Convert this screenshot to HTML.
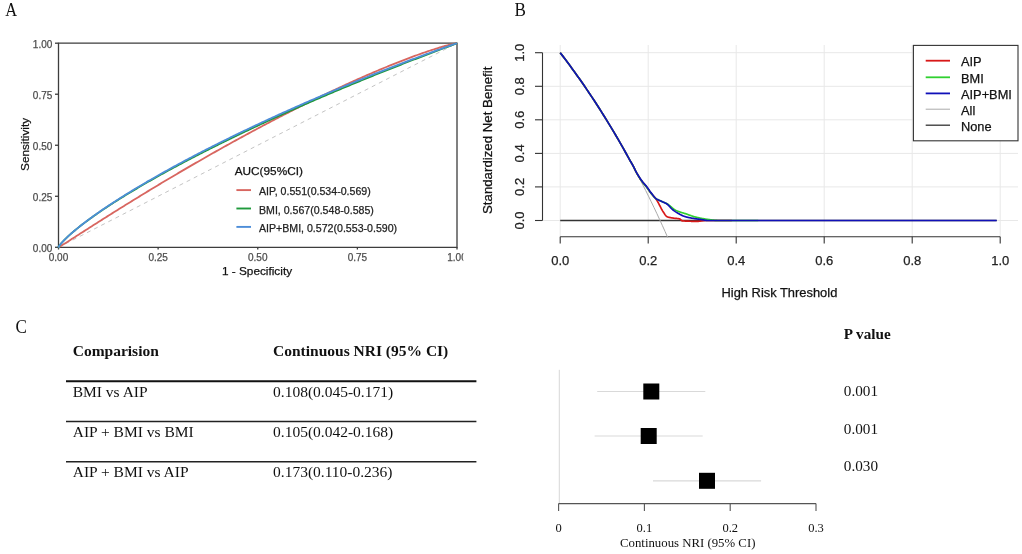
<!DOCTYPE html>
<html><head><meta charset="utf-8"><style>
html,body{margin:0;padding:0;background:#fff;width:1022px;height:554px;overflow:hidden}
svg{display:block;will-change:transform}
</style></head><body>
<svg width="1022" height="554" viewBox="0 0 1022 554">
<rect width="1022" height="554" fill="#fff"/>
<text transform="translate(5.2,15.7) scale(0.9,1)" font-family="Liberation Serif, serif" font-size="18.3" fill="#111">A</text>
<defs><clipPath id="clipA"><rect x="0" y="0" width="463.3" height="554"/></clipPath></defs>
<path d="M58.5,43.2 H457 V247.3 H58.5 Z" fill="none" stroke="#3d3d3d" stroke-width="1.3"/>
<line x1="55" y1="247.30" x2="58.5" y2="247.30" stroke="#3d3d3d" stroke-width="1.3"/>
<text stroke="#4d4d4d" x="52.3" y="251.70" font-family="Liberation Sans, sans-serif" stroke-width="0.25" paint-order="stroke" font-size="10" fill="#4d4d4d" text-anchor="end">0.00</text>
<line x1="55" y1="196.28" x2="58.5" y2="196.28" stroke="#3d3d3d" stroke-width="1.3"/>
<text stroke="#4d4d4d" x="52.3" y="200.68" font-family="Liberation Sans, sans-serif" stroke-width="0.25" paint-order="stroke" font-size="10" fill="#4d4d4d" text-anchor="end">0.25</text>
<line x1="55" y1="145.25" x2="58.5" y2="145.25" stroke="#3d3d3d" stroke-width="1.3"/>
<text stroke="#4d4d4d" x="52.3" y="149.65" font-family="Liberation Sans, sans-serif" stroke-width="0.25" paint-order="stroke" font-size="10" fill="#4d4d4d" text-anchor="end">0.50</text>
<line x1="55" y1="94.23" x2="58.5" y2="94.23" stroke="#3d3d3d" stroke-width="1.3"/>
<text stroke="#4d4d4d" x="52.3" y="98.63" font-family="Liberation Sans, sans-serif" stroke-width="0.25" paint-order="stroke" font-size="10" fill="#4d4d4d" text-anchor="end">0.75</text>
<line x1="55" y1="43.20" x2="58.5" y2="43.20" stroke="#3d3d3d" stroke-width="1.3"/>
<text stroke="#4d4d4d" x="52.3" y="47.60" font-family="Liberation Sans, sans-serif" stroke-width="0.25" paint-order="stroke" font-size="10" fill="#4d4d4d" text-anchor="end">1.00</text>
<line x1="58.50" y1="247.3" x2="58.50" y2="249.5" stroke="#3d3d3d" stroke-width="1.3"/>
<text stroke="#4d4d4d" x="58.50" y="260.6" font-family="Liberation Sans, sans-serif" stroke-width="0.25" paint-order="stroke" font-size="10" fill="#4d4d4d" text-anchor="middle" clip-path="url(#clipA)">0.00</text>
<line x1="158.12" y1="247.3" x2="158.12" y2="249.5" stroke="#3d3d3d" stroke-width="1.3"/>
<text stroke="#4d4d4d" x="158.12" y="260.6" font-family="Liberation Sans, sans-serif" stroke-width="0.25" paint-order="stroke" font-size="10" fill="#4d4d4d" text-anchor="middle" clip-path="url(#clipA)">0.25</text>
<line x1="257.75" y1="247.3" x2="257.75" y2="249.5" stroke="#3d3d3d" stroke-width="1.3"/>
<text stroke="#4d4d4d" x="257.75" y="260.6" font-family="Liberation Sans, sans-serif" stroke-width="0.25" paint-order="stroke" font-size="10" fill="#4d4d4d" text-anchor="middle" clip-path="url(#clipA)">0.50</text>
<line x1="357.38" y1="247.3" x2="357.38" y2="249.5" stroke="#3d3d3d" stroke-width="1.3"/>
<text stroke="#4d4d4d" x="357.38" y="260.6" font-family="Liberation Sans, sans-serif" stroke-width="0.25" paint-order="stroke" font-size="10" fill="#4d4d4d" text-anchor="middle" clip-path="url(#clipA)">0.75</text>
<line x1="457.00" y1="247.3" x2="457.00" y2="249.5" stroke="#3d3d3d" stroke-width="1.3"/>
<text stroke="#4d4d4d" x="457.00" y="260.6" font-family="Liberation Sans, sans-serif" stroke-width="0.25" paint-order="stroke" font-size="10" fill="#4d4d4d" text-anchor="middle" clip-path="url(#clipA)">1.00</text>
<text stroke="#111" x="257" y="274.8" font-family="Liberation Sans, sans-serif" stroke-width="0.25" paint-order="stroke" font-size="11.8" fill="#111" text-anchor="middle">1 - Specificity</text>
<text stroke="#111" transform="translate(28.8,144.4) rotate(-90)" x="0" y="0" font-family="Liberation Sans, sans-serif" stroke-width="0.25" paint-order="stroke" font-size="11.8" fill="#111" text-anchor="middle">Sensitivity</text>
<line x1="58.5" y1="247.3" x2="457" y2="43.2" stroke="#c4c4c4" stroke-width="1" stroke-dasharray="4,4"/>
<path d="M58.50,247.30L58.50,247.30L58.51,247.30L58.51,247.30L58.51,247.30L58.51,247.30L58.52,247.29L58.52,247.29L58.53,247.29L58.54,247.28L58.55,247.28L58.56,247.27L58.58,247.26L58.61,247.25L58.65,247.23L58.70,247.20L58.76,247.17L58.84,247.12L58.95,247.06L59.09,246.98L59.28,246.87L59.53,246.72L59.86,246.53L60.30,246.27L60.88,245.92L61.64,245.45L62.65,244.82L63.97,243.99L65.73,242.89L68.04,241.42L71.10,239.47L71.25,239.37L72.54,238.55L73.83,237.72L75.12,236.90L76.41,236.07L77.70,235.25L78.98,234.42L80.27,233.59L81.56,232.77L82.85,231.94L84.14,231.12L85.43,230.29L86.72,229.47L88.01,228.65L89.30,227.82L90.58,227.00L91.87,226.18L93.16,225.36L94.45,224.54L95.74,223.72L97.03,222.90L98.32,222.08L99.61,221.26L100.89,220.45L102.18,219.63L103.47,218.82L104.76,218.00L106.05,217.19L107.34,216.38L108.63,215.56L109.92,214.75L111.20,213.94L112.49,213.13L113.78,212.32L115.07,211.52L116.36,210.71L117.65,209.91L118.94,209.10L120.23,208.30L121.51,207.49L122.80,206.69L124.09,205.89L125.38,205.09L126.67,204.29L127.96,203.49L129.25,202.70L130.54,201.90L131.83,201.11L133.11,200.31L134.40,199.52L135.69,198.73L136.98,197.94L138.27,197.15L139.56,196.36L140.85,195.57L142.14,194.78L143.42,193.99L144.71,193.21L146.00,192.43L147.29,191.64L148.58,190.86L149.87,190.08L151.16,189.30L152.45,188.52L153.73,187.74L155.02,186.96L156.31,186.19L157.60,185.41L158.89,184.64L160.18,183.87L161.47,183.09L162.76,182.32L164.05,181.55L165.33,180.78L166.62,180.02L167.91,179.25L169.20,178.48L170.49,177.72L171.78,176.96L173.07,176.19L174.36,175.43L175.64,174.67L176.93,173.91L178.22,173.15L179.51,172.40L180.80,171.64L182.09,170.89L183.38,170.13L184.67,169.38L185.95,168.63L187.24,167.88L188.53,167.13L189.82,166.38L191.11,165.63L192.40,164.88L193.69,164.14L194.98,163.39L196.27,162.65L197.55,161.91L198.84,161.17L200.13,160.43L201.42,159.69L202.71,158.95L204.00,158.21L205.29,157.48L206.58,156.74L207.86,156.01L209.15,155.28L210.44,154.55L211.73,153.82L213.02,153.09L214.31,152.36L215.60,151.63L216.89,150.91L218.17,150.18L219.46,149.46L220.75,148.74L222.04,148.02L223.33,147.30L224.62,146.58L225.91,145.86L227.20,145.15L228.48,144.43L229.77,143.72L231.06,143.00L232.35,142.29L233.64,141.58L234.93,140.87L236.22,140.16L237.51,139.46L238.80,138.75L240.08,138.05L241.37,137.34L242.66,136.64L243.95,135.94L245.24,135.24L246.53,134.54L247.82,133.84L249.11,133.15L250.39,132.45L251.68,131.76L252.97,131.06L254.26,130.37L255.55,129.68L256.84,128.99L258.13,128.31L259.42,127.62L260.70,126.93L261.99,126.25L263.28,125.57L264.57,124.88L265.86,124.20L267.15,123.53L268.44,122.85L269.73,122.17L271.02,121.50L272.30,120.82L273.59,120.15L274.88,119.48L276.17,118.81L277.46,118.14L278.75,117.47L280.04,116.80L281.33,116.14L282.61,115.47L283.90,114.81L285.19,114.15L286.48,113.49L287.77,112.83L289.06,112.18L290.35,111.52L291.64,110.86L292.92,110.21L294.21,109.56L295.50,108.91L296.79,108.26L298.08,107.61L299.37,106.97L300.66,106.32L301.95,105.68L303.23,105.04L304.52,104.40L305.81,103.76L307.10,103.12L308.39,102.48L309.68,101.85L310.97,101.21L312.26,100.58L313.55,99.95L314.83,99.32L316.12,98.69L317.41,98.07L318.70,97.44L319.99,96.82L321.28,96.20L322.57,95.58L323.86,94.96L325.14,94.34L326.43,93.72L327.72,93.11L329.01,92.50L330.30,91.89L331.59,91.28L332.88,90.67L334.17,90.06L335.45,89.46L336.74,88.85L338.03,88.25L339.32,87.65L340.61,87.05L341.90,86.46L343.19,85.86L344.48,85.27L345.77,84.68L347.05,84.09L348.34,83.50L349.63,82.91L350.92,82.33L352.21,81.75L353.50,81.16L354.79,80.58L356.08,80.01L357.36,79.43L358.65,78.86L359.94,78.28L361.23,77.71L362.52,77.15L363.81,76.58L365.10,76.01L366.39,75.45L367.67,74.89L368.96,74.33L370.25,73.77L371.54,73.22L372.83,72.67L374.12,72.12L375.41,71.57L376.70,71.02L377.99,70.47L379.27,69.93L380.56,69.39L381.85,68.85L383.14,68.32L384.43,67.78L385.72,67.25L387.01,66.72L388.30,66.19L389.58,65.67L390.87,65.14L392.16,64.62L393.45,64.11L394.74,63.59L396.03,63.08L397.32,62.57L398.61,62.06L399.89,61.55L401.18,61.05L402.47,60.55L403.76,60.05L405.05,59.56L406.34,59.07L407.63,58.58L408.92,58.09L410.20,57.61L411.49,57.13L412.78,56.65L414.07,56.18L415.36,55.70L416.65,55.24L417.94,54.77L419.23,54.31L420.52,53.85L421.80,53.40L423.09,52.95L424.38,52.50L425.67,52.06L426.96,51.62L428.25,51.19L429.54,50.75L430.83,50.33L432.11,49.91L433.40,49.49L434.69,49.08L435.98,48.67L437.27,48.27L438.56,47.87L439.85,47.48L441.14,47.10L442.42,46.72L443.71,46.35L445.00,45.99L446.29,45.63L447.58,45.28L448.87,44.95L450.16,44.62L451.45,44.31L452.74,44.01L454.02,43.73L455.31,43.47L456.60,43.25L457.00,43.20" fill="none" stroke="#d86660" stroke-width="1.8"/>
<path d="M58.50,247.30L58.50,247.28L58.51,247.28L58.51,247.27L58.51,247.26L58.51,247.26L58.52,247.24L58.52,247.23L58.53,247.21L58.54,247.19L58.55,247.16L58.56,247.12L58.58,247.08L58.61,247.02L58.65,246.94L58.70,246.85L58.76,246.74L58.84,246.59L58.95,246.41L59.09,246.18L59.28,245.89L59.53,245.53L59.86,245.07L60.30,244.50L60.88,243.79L61.64,242.89L62.65,241.77L63.97,240.36L65.73,238.60L68.04,236.40L71.10,233.65L71.25,233.51L72.54,232.40L73.83,231.30L75.12,230.23L76.41,229.17L77.70,228.12L78.98,227.09L80.27,226.08L81.56,225.07L82.85,224.08L84.14,223.10L85.43,222.13L86.72,221.17L88.01,220.21L89.30,219.27L90.58,218.33L91.87,217.41L93.16,216.49L94.45,215.58L95.74,214.67L97.03,213.77L98.32,212.88L99.61,211.99L100.89,211.11L102.18,210.24L103.47,209.37L104.76,208.51L106.05,207.65L107.34,206.80L108.63,205.95L109.92,205.11L111.20,204.27L112.49,203.44L113.78,202.61L115.07,201.79L116.36,200.97L117.65,200.15L118.94,199.34L120.23,198.53L121.51,197.73L122.80,196.93L124.09,196.13L125.38,195.34L126.67,194.55L127.96,193.76L129.25,192.98L130.54,192.20L131.83,191.42L133.11,190.65L134.40,189.88L135.69,189.11L136.98,188.35L138.27,187.58L139.56,186.83L140.85,186.07L142.14,185.32L143.42,184.57L144.71,183.82L146.00,183.08L147.29,182.33L148.58,181.59L149.87,180.86L151.16,180.12L152.45,179.39L153.73,178.66L155.02,177.93L156.31,177.21L157.60,176.49L158.89,175.77L160.18,175.05L161.47,174.33L162.76,173.62L164.05,172.91L165.33,172.20L166.62,171.49L167.91,170.79L169.20,170.08L170.49,169.38L171.78,168.68L173.07,167.99L174.36,167.29L175.64,166.60L176.93,165.91L178.22,165.22L179.51,164.53L180.80,163.84L182.09,163.16L183.38,162.48L184.67,161.80L185.95,161.12L187.24,160.44L188.53,159.77L189.82,159.09L191.11,158.42L192.40,157.75L193.69,157.08L194.98,156.42L196.27,155.75L197.55,155.09L198.84,154.43L200.13,153.76L201.42,153.11L202.71,152.45L204.00,151.79L205.29,151.14L206.58,150.49L207.86,149.83L209.15,149.19L210.44,148.54L211.73,147.89L213.02,147.24L214.31,146.60L215.60,145.96L216.89,145.32L218.17,144.68L219.46,144.04L220.75,143.40L222.04,142.77L223.33,142.13L224.62,141.50L225.91,140.87L227.20,140.24L228.48,139.61L229.77,138.98L231.06,138.35L232.35,137.73L233.64,137.11L234.93,136.48L236.22,135.86L237.51,135.24L238.80,134.62L240.08,134.00L241.37,133.39L242.66,132.77L243.95,132.16L245.24,131.55L246.53,130.93L247.82,130.32L249.11,129.71L250.39,129.11L251.68,128.50L252.97,127.89L254.26,127.29L255.55,126.68L256.84,126.08L258.13,125.48L259.42,124.88L260.70,124.28L261.99,123.68L263.28,123.09L264.57,122.49L265.86,121.90L267.15,121.30L268.44,120.71L269.73,120.12L271.02,119.53L272.30,118.94L273.59,118.35L274.88,117.76L276.17,117.18L277.46,116.59L278.75,116.01L280.04,115.42L281.33,114.84L282.61,114.26L283.90,113.68L285.19,113.10L286.48,112.52L287.77,111.94L289.06,111.37L290.35,110.79L291.64,110.22L292.92,109.64L294.21,109.07L295.50,108.50L296.79,107.93L298.08,107.36L299.37,106.79L300.66,106.22L301.95,105.65L303.23,105.09L304.52,104.52L305.81,103.96L307.10,103.40L308.39,102.83L309.68,102.27L310.97,101.71L312.26,101.15L313.55,100.59L314.83,100.04L316.12,99.48L317.41,98.92L318.70,98.37L319.99,97.81L321.28,97.26L322.57,96.71L323.86,96.16L325.14,95.61L326.43,95.06L327.72,94.51L329.01,93.96L330.30,93.41L331.59,92.86L332.88,92.32L334.17,91.77L335.45,91.23L336.74,90.69L338.03,90.14L339.32,89.60L340.61,89.06L341.90,88.52L343.19,87.98L344.48,87.44L345.77,86.91L347.05,86.37L348.34,85.83L349.63,85.30L350.92,84.77L352.21,84.23L353.50,83.70L354.79,83.17L356.08,82.64L357.36,82.11L358.65,81.58L359.94,81.05L361.23,80.52L362.52,79.99L363.81,79.47L365.10,78.94L366.39,78.42L367.67,77.89L368.96,77.37L370.25,76.85L371.54,76.33L372.83,75.81L374.12,75.29L375.41,74.77L376.70,74.25L377.99,73.73L379.27,73.21L380.56,72.70L381.85,72.18L383.14,71.67L384.43,71.15L385.72,70.64L387.01,70.13L388.30,69.62L389.58,69.10L390.87,68.59L392.16,68.08L393.45,67.58L394.74,67.07L396.03,66.56L397.32,66.05L398.61,65.55L399.89,65.04L401.18,64.54L402.47,64.03L403.76,63.53L405.05,63.03L406.34,62.53L407.63,62.03L408.92,61.53L410.20,61.03L411.49,60.53L412.78,60.03L414.07,59.53L415.36,59.04L416.65,58.54L417.94,58.04L419.23,57.55L420.52,57.06L421.80,56.56L423.09,56.07L424.38,55.58L425.67,55.09L426.96,54.60L428.25,54.11L429.54,53.62L430.83,53.13L432.11,52.64L433.40,52.15L434.69,51.66L435.98,51.18L437.27,50.69L438.56,50.20L439.85,49.72L441.14,49.23L442.42,48.75L443.71,48.27L445.00,47.78L446.29,47.30L447.58,46.81L448.87,46.33L450.16,45.84L451.45,45.36L452.74,44.87L454.02,44.38L455.31,43.88L456.60,43.37L457.00,43.20" fill="none" stroke="#1f9a3c" stroke-width="1.8"/>
<path d="M58.50,247.30L58.50,247.28L58.51,247.28L58.51,247.27L58.51,247.27L58.51,247.26L58.52,247.25L58.52,247.23L58.53,247.22L58.54,247.19L58.55,247.17L58.56,247.13L58.58,247.09L58.61,247.03L58.65,246.96L58.70,246.87L58.76,246.76L58.84,246.62L58.95,246.44L59.09,246.21L59.28,245.93L59.53,245.57L59.86,245.12L60.30,244.55L60.88,243.84L61.64,242.95L62.65,241.82L63.97,240.41L65.73,238.65L68.04,236.43L71.10,233.66L71.25,233.52L72.54,232.40L73.83,231.29L75.12,230.21L76.41,229.13L77.70,228.08L78.98,227.04L80.27,226.01L81.56,224.99L82.85,223.99L84.14,222.99L85.43,222.01L86.72,221.04L88.01,220.07L89.30,219.12L90.58,218.17L91.87,217.23L93.16,216.30L94.45,215.37L95.74,214.45L97.03,213.54L98.32,212.64L99.61,211.74L100.89,210.85L102.18,209.96L103.47,209.08L104.76,208.21L106.05,207.34L107.34,206.47L108.63,205.61L109.92,204.76L111.20,203.91L112.49,203.06L113.78,202.22L115.07,201.39L116.36,200.55L117.65,199.73L118.94,198.90L120.23,198.08L121.51,197.27L122.80,196.45L124.09,195.65L125.38,194.84L126.67,194.04L127.96,193.24L129.25,192.45L130.54,191.66L131.83,190.87L133.11,190.08L134.40,189.30L135.69,188.53L136.98,187.75L138.27,186.98L139.56,186.21L140.85,185.44L142.14,184.68L143.42,183.92L144.71,183.16L146.00,182.41L147.29,181.65L148.58,180.90L149.87,180.16L151.16,179.41L152.45,178.67L153.73,177.93L155.02,177.19L156.31,176.46L157.60,175.73L158.89,175.00L160.18,174.27L161.47,173.54L162.76,172.82L164.05,172.10L165.33,171.38L166.62,170.67L167.91,169.95L169.20,169.24L170.49,168.53L171.78,167.82L173.07,167.12L174.36,166.41L175.64,165.71L176.93,165.01L178.22,164.31L179.51,163.62L180.80,162.92L182.09,162.23L183.38,161.54L184.67,160.85L185.95,160.16L187.24,159.48L188.53,158.80L189.82,158.11L191.11,157.44L192.40,156.76L193.69,156.08L194.98,155.41L196.27,154.74L197.55,154.06L198.84,153.40L200.13,152.73L201.42,152.06L202.71,151.40L204.00,150.73L205.29,150.07L206.58,149.41L207.86,148.76L209.15,148.10L210.44,147.45L211.73,146.79L213.02,146.14L214.31,145.49L215.60,144.84L216.89,144.19L218.17,143.55L219.46,142.90L220.75,142.26L222.04,141.62L223.33,140.98L224.62,140.34L225.91,139.70L227.20,139.07L228.48,138.43L229.77,137.80L231.06,137.17L232.35,136.54L233.64,135.91L234.93,135.28L236.22,134.66L237.51,134.03L238.80,133.41L240.08,132.79L241.37,132.17L242.66,131.55L243.95,130.93L245.24,130.31L246.53,129.70L247.82,129.08L249.11,128.47L250.39,127.86L251.68,127.25L252.97,126.64L254.26,126.03L255.55,125.42L256.84,124.81L258.13,124.21L259.42,123.61L260.70,123.00L261.99,122.40L263.28,121.80L264.57,121.20L265.86,120.61L267.15,120.01L268.44,119.42L269.73,118.82L271.02,118.23L272.30,117.64L273.59,117.05L274.88,116.46L276.17,115.87L277.46,115.28L278.75,114.69L280.04,114.11L281.33,113.53L282.61,112.94L283.90,112.36L285.19,111.78L286.48,111.20L287.77,110.62L289.06,110.04L290.35,109.47L291.64,108.89L292.92,108.32L294.21,107.75L295.50,107.17L296.79,106.60L298.08,106.03L299.37,105.46L300.66,104.90L301.95,104.33L303.23,103.76L304.52,103.20L305.81,102.63L307.10,102.07L308.39,101.51L309.68,100.95L310.97,100.39L312.26,99.83L313.55,99.27L314.83,98.72L316.12,98.16L317.41,97.61L318.70,97.05L319.99,96.50L321.28,95.95L322.57,95.40L323.86,94.85L325.14,94.30L326.43,93.75L327.72,93.20L329.01,92.66L330.30,92.11L331.59,91.57L332.88,91.03L334.17,90.48L335.45,89.94L336.74,89.40L338.03,88.86L339.32,88.33L340.61,87.79L341.90,87.25L343.19,86.72L344.48,86.18L345.77,85.65L347.05,85.12L348.34,84.59L349.63,84.06L350.92,83.53L352.21,83.00L353.50,82.47L354.79,81.94L356.08,81.42L357.36,80.89L358.65,80.37L359.94,79.85L361.23,79.32L362.52,78.80L363.81,78.28L365.10,77.76L366.39,77.24L367.67,76.73L368.96,76.21L370.25,75.69L371.54,75.18L372.83,74.67L374.12,74.15L375.41,73.64L376.70,73.13L377.99,72.62L379.27,72.11L380.56,71.60L381.85,71.10L383.14,70.59L384.43,70.09L385.72,69.58L387.01,69.08L388.30,68.57L389.58,68.07L390.87,67.57L392.16,67.07L393.45,66.57L394.74,66.08L396.03,65.58L397.32,65.08L398.61,64.59L399.89,64.10L401.18,63.60L402.47,63.11L403.76,62.62L405.05,62.13L406.34,61.64L407.63,61.15L408.92,60.66L410.20,60.18L411.49,59.69L412.78,59.21L414.07,58.73L415.36,58.24L416.65,57.76L417.94,57.28L419.23,56.80L420.52,56.32L421.80,55.85L423.09,55.37L424.38,54.89L425.67,54.42L426.96,53.95L428.25,53.48L429.54,53.00L430.83,52.53L432.11,52.06L433.40,51.60L434.69,51.13L435.98,50.66L437.27,50.20L438.56,49.74L439.85,49.27L441.14,48.81L442.42,48.35L443.71,47.89L445.00,47.43L446.29,46.98L447.58,46.52L448.87,46.07L450.16,45.61L451.45,45.16L452.74,44.71L454.02,44.26L455.31,43.80L456.60,43.35L457.00,43.20" fill="none" stroke="#4d8dd8" stroke-width="1.8"/>
<text stroke="#111" x="234.7" y="175" font-family="Liberation Sans, sans-serif" stroke-width="0.25" paint-order="stroke" font-size="11.8" fill="#111">AUC(95%CI)</text>
<line x1="236.4" y1="190.1" x2="251" y2="190.1" stroke="#d86660" stroke-width="1.9"/>
<text stroke="#222" x="259" y="195.2" font-family="Liberation Sans, sans-serif" stroke-width="0.25" paint-order="stroke" font-size="10.6" fill="#222">AIP, 0.551(0.534-0.569)</text>
<line x1="236.4" y1="208.5" x2="251" y2="208.5" stroke="#1f9a3c" stroke-width="1.9"/>
<text stroke="#222" x="259" y="213.6" font-family="Liberation Sans, sans-serif" stroke-width="0.25" paint-order="stroke" font-size="10.6" fill="#222">BMI, 0.567(0.548-0.585)</text>
<line x1="236.4" y1="226.9" x2="251" y2="226.9" stroke="#4d8dd8" stroke-width="1.9"/>
<text stroke="#222" x="259" y="232.0" font-family="Liberation Sans, sans-serif" stroke-width="0.25" paint-order="stroke" font-size="10.6" fill="#222">AIP+BMI, 0.572(0.553-0.590)</text>
<text transform="translate(514.6,15.7) scale(0.9,1)" font-family="Liberation Serif, serif" font-size="19" fill="#111">B</text>
<line x1="560.2" y1="45" x2="560.2" y2="236.7" stroke="#e8e8e8" stroke-width="1"/>
<line x1="543" y1="220.5" x2="1018" y2="220.5" stroke="#e8e8e8" stroke-width="1"/>
<line x1="648.2" y1="45" x2="648.2" y2="236.7" stroke="#e8e8e8" stroke-width="1"/>
<line x1="543" y1="186.9" x2="1018" y2="186.9" stroke="#e8e8e8" stroke-width="1"/>
<line x1="736.2" y1="45" x2="736.2" y2="236.7" stroke="#e8e8e8" stroke-width="1"/>
<line x1="543" y1="153.4" x2="1018" y2="153.4" stroke="#e8e8e8" stroke-width="1"/>
<line x1="824.2" y1="45" x2="824.2" y2="236.7" stroke="#e8e8e8" stroke-width="1"/>
<line x1="543" y1="119.8" x2="1018" y2="119.8" stroke="#e8e8e8" stroke-width="1"/>
<line x1="912.2" y1="45" x2="912.2" y2="236.7" stroke="#e8e8e8" stroke-width="1"/>
<line x1="543" y1="86.3" x2="1018" y2="86.3" stroke="#e8e8e8" stroke-width="1"/>
<line x1="1000.2" y1="45" x2="1000.2" y2="236.7" stroke="#e8e8e8" stroke-width="1"/>
<line x1="543" y1="52.7" x2="1018" y2="52.7" stroke="#e8e8e8" stroke-width="1"/>
<line x1="542.5" y1="52.7" x2="542.5" y2="220.5" stroke="#333" stroke-width="1.1"/>
<line x1="535" y1="220.5" x2="542.5" y2="220.5" stroke="#333" stroke-width="1.1"/>
<text stroke="#222" transform="translate(523.8,220.5) rotate(-90)" font-family="Liberation Sans, sans-serif" stroke-width="0.25" paint-order="stroke" font-size="13" fill="#222" text-anchor="middle">0.0</text>
<line x1="535" y1="186.9" x2="542.5" y2="186.9" stroke="#333" stroke-width="1.1"/>
<text stroke="#222" transform="translate(523.8,186.9) rotate(-90)" font-family="Liberation Sans, sans-serif" stroke-width="0.25" paint-order="stroke" font-size="13" fill="#222" text-anchor="middle">0.2</text>
<line x1="535" y1="153.4" x2="542.5" y2="153.4" stroke="#333" stroke-width="1.1"/>
<text stroke="#222" transform="translate(523.8,153.4) rotate(-90)" font-family="Liberation Sans, sans-serif" stroke-width="0.25" paint-order="stroke" font-size="13" fill="#222" text-anchor="middle">0.4</text>
<line x1="535" y1="119.8" x2="542.5" y2="119.8" stroke="#333" stroke-width="1.1"/>
<text stroke="#222" transform="translate(523.8,119.8) rotate(-90)" font-family="Liberation Sans, sans-serif" stroke-width="0.25" paint-order="stroke" font-size="13" fill="#222" text-anchor="middle">0.6</text>
<line x1="535" y1="86.3" x2="542.5" y2="86.3" stroke="#333" stroke-width="1.1"/>
<text stroke="#222" transform="translate(523.8,86.3) rotate(-90)" font-family="Liberation Sans, sans-serif" stroke-width="0.25" paint-order="stroke" font-size="13" fill="#222" text-anchor="middle">0.8</text>
<line x1="535" y1="52.7" x2="542.5" y2="52.7" stroke="#333" stroke-width="1.1"/>
<text stroke="#222" transform="translate(523.8,52.7) rotate(-90)" font-family="Liberation Sans, sans-serif" stroke-width="0.25" paint-order="stroke" font-size="13" fill="#222" text-anchor="middle">1.0</text>
<line x1="560.2" y1="236.7" x2="1000.2" y2="236.7" stroke="#333" stroke-width="1.1"/>
<line x1="560.2" y1="236.7" x2="560.2" y2="243.5" stroke="#333" stroke-width="1.1"/>
<text stroke="#222" x="560.2" y="265" font-family="Liberation Sans, sans-serif" stroke-width="0.25" paint-order="stroke" font-size="13" fill="#222" text-anchor="middle">0.0</text>
<line x1="648.2" y1="236.7" x2="648.2" y2="243.5" stroke="#333" stroke-width="1.1"/>
<text stroke="#222" x="648.2" y="265" font-family="Liberation Sans, sans-serif" stroke-width="0.25" paint-order="stroke" font-size="13" fill="#222" text-anchor="middle">0.2</text>
<line x1="736.2" y1="236.7" x2="736.2" y2="243.5" stroke="#333" stroke-width="1.1"/>
<text stroke="#222" x="736.2" y="265" font-family="Liberation Sans, sans-serif" stroke-width="0.25" paint-order="stroke" font-size="13" fill="#222" text-anchor="middle">0.4</text>
<line x1="824.2" y1="236.7" x2="824.2" y2="243.5" stroke="#333" stroke-width="1.1"/>
<text stroke="#222" x="824.2" y="265" font-family="Liberation Sans, sans-serif" stroke-width="0.25" paint-order="stroke" font-size="13" fill="#222" text-anchor="middle">0.6</text>
<line x1="912.2" y1="236.7" x2="912.2" y2="243.5" stroke="#333" stroke-width="1.1"/>
<text stroke="#222" x="912.2" y="265" font-family="Liberation Sans, sans-serif" stroke-width="0.25" paint-order="stroke" font-size="13" fill="#222" text-anchor="middle">0.8</text>
<line x1="1000.2" y1="236.7" x2="1000.2" y2="243.5" stroke="#333" stroke-width="1.1"/>
<text stroke="#222" x="1000.2" y="265" font-family="Liberation Sans, sans-serif" stroke-width="0.25" paint-order="stroke" font-size="13" fill="#222" text-anchor="middle">1.0</text>
<text stroke="#111" x="779.4" y="297.3" font-family="Liberation Sans, sans-serif" stroke-width="0.25" paint-order="stroke" font-size="12.9" fill="#111" text-anchor="middle">High Risk Threshold</text>
<text stroke="#111" transform="translate(492.2,140.35) rotate(-90)" font-family="Liberation Sans, sans-serif" stroke-width="0.25" paint-order="stroke" font-size="13.25" fill="#111" text-anchor="middle">Standardized Net Benefit</text>
<line x1="560.2" y1="220.5" x2="996.7" y2="220.5" stroke="#333" stroke-width="1.3"/>
<path d="M560.20,52.70L562.96,56.30L565.72,59.96L568.48,63.65L571.23,67.40L573.99,71.19L576.75,75.03L579.51,78.93L582.27,82.87L585.03,86.87L587.78,90.92L590.54,95.02L593.30,99.18L596.06,103.40L598.82,107.68L601.58,112.01L604.34,116.41L607.09,120.86L609.85,125.38L612.61,129.97L615.37,134.62L618.13,139.33L620.89,144.12L623.64,148.97L626.40,153.90L629.16,158.90L631.92,163.98L634.68,169.13L637.44,174.36L640.20,179.67L642.95,185.06L645.71,190.54L648.47,196.10L651.23,201.75L653.99,207.49L656.75,213.32L659.50,219.25L662.26,225.28L665.02,231.40L667.78,237.62" fill="none" stroke="#aaa" stroke-width="1"/>
<path d="M560.20,52.70L562.63,55.87L565.06,59.08L567.48,62.32L569.91,65.59L572.34,68.91L574.77,72.26L577.19,75.65L579.62,79.09L582.05,82.56L584.48,86.07L586.90,89.62L589.33,93.21L591.76,96.85L594.19,100.53L596.61,104.26L599.04,108.03L601.47,111.84L603.90,115.70L606.32,119.61L608.75,123.57L611.18,127.58L613.61,131.64L616.03,135.75L618.46,139.91L620.89,144.13L623.32,148.39L625.74,152.72L628.17,157.10L630.60,161.54L630.60,161.54L630.97,162.13L631.33,162.73L631.70,163.34L632.06,163.97L632.43,164.62L632.79,165.27L633.16,165.94L633.52,166.64L633.89,167.37L634.25,168.12L634.62,168.89L634.98,169.67L635.35,170.43L635.71,171.18L636.08,171.89L636.45,172.57L636.81,173.23L637.18,173.88L637.54,174.52L637.91,175.15L638.27,175.77L638.64,176.38L639.00,176.98L639.37,177.57L639.73,178.14L640.10,178.71L640.46,179.26L640.83,179.80L641.19,180.33L641.56,180.84L641.93,181.34L642.29,181.82L642.66,182.27L643.02,182.72L643.39,183.15L643.75,183.57L644.12,183.99L644.48,184.40L644.85,184.82L645.21,185.24L645.58,185.66L645.94,186.10L646.31,186.54L646.68,187.01L647.04,187.49L647.41,188.00L647.77,188.52L648.14,189.06L648.50,189.61L648.87,190.16L649.23,190.71L649.60,191.26L649.96,191.79L650.33,192.30L650.69,192.79L651.06,193.26L651.42,193.71L651.79,194.14L652.16,194.55L652.52,194.96L652.89,195.36L653.25,195.76L653.62,196.16L653.98,196.56L654.35,196.97L654.71,197.39L655.08,197.83L655.44,198.28L655.81,198.76L656.17,199.27L656.54,199.80L656.90,200.38L657.27,200.98L657.64,201.61L658.00,202.27L658.37,202.94L658.73,203.64L659.10,204.34L659.46,205.05L659.83,205.76L660.19,206.48L660.56,207.19L660.92,207.89L661.29,208.58L661.65,209.26L662.02,209.91L662.38,210.54L662.75,211.15L663.12,211.72L663.48,212.26L663.85,212.81L664.21,213.37L664.58,213.93L664.94,214.48L665.31,215.00L665.67,215.48L666.04,215.91L666.40,216.26L666.77,216.53L667.13,216.70L667.50,216.85L667.86,216.98L668.23,217.10L668.60,217.21L668.96,217.31L669.33,217.40L669.69,217.49L670.06,217.57L670.42,217.64L670.79,217.71L671.15,217.77L671.52,217.83L671.88,217.90L672.25,217.96L672.61,218.02L672.98,218.07L673.35,218.12L673.71,218.17L674.08,218.21L674.44,218.24L674.81,218.28L675.17,218.31L675.54,218.34L675.90,218.37L676.27,218.40L676.63,218.44L677.00,218.48L677.36,218.52L677.73,218.56L678.09,218.61L678.46,218.67L678.83,218.74L679.19,218.81L679.56,218.89L679.92,219.03L680.29,219.29L680.65,219.62L681.02,219.98L681.38,220.33L681.75,220.62L682.11,220.80L682.48,220.85L682.84,220.88L683.21,220.91L683.57,220.93L683.94,220.96L684.31,220.98L684.67,221.00L685.04,221.03L685.40,221.05L685.77,221.07L686.13,221.09L686.50,221.11L686.86,221.12L687.23,221.14L687.59,221.16L687.96,221.17L688.32,221.19L688.69,221.20L689.05,221.21L689.42,221.23L689.79,221.24L690.15,221.25L690.52,221.26L690.88,221.27L691.25,221.28L691.61,221.28L691.98,221.29L692.34,221.30L692.71,221.30L693.07,221.31L693.44,221.31L693.80,221.32L694.17,221.32L694.54,221.33L694.90,221.33L695.27,221.33L695.63,221.33L696.00,221.34L696.36,221.34L696.73,221.34L697.09,221.34L697.46,221.34L697.82,221.33L698.19,221.32L698.55,221.30L698.92,221.27L699.28,221.23L699.65,221.18L700.02,221.14L700.38,221.08L700.75,221.03L701.11,220.97L701.48,220.91L701.84,220.86L702.21,220.80L702.57,220.74L702.94,220.69L703.30,220.65L703.67,220.60L704.03,220.57L704.40,220.54L704.76,220.52L705.13,220.50L705.50,220.50L705.86,220.50L706.23,220.50L706.59,220.50L706.96,220.50L707.32,220.50L707.69,220.50L708.05,220.50L708.42,220.50L708.78,220.50L709.15,220.50L709.51,220.50L709.88,220.50L710.24,220.50L710.61,220.50L710.98,220.50L711.34,220.50L711.71,220.50L712.07,220.50L712.44,220.50L712.80,220.50L713.17,220.50L713.53,220.50L713.90,220.50L714.26,220.50L714.63,220.50L714.99,220.50L715.36,220.50L715.72,220.50L716.09,220.50L716.46,220.50L716.82,220.50L717.19,220.50L717.55,220.50L717.92,220.50L718.28,220.50L718.65,220.50L719.01,220.50L719.38,220.50L719.74,220.50L720.11,220.50L720.47,220.50L720.84,220.50L721.21,220.50L721.57,220.50L721.94,220.50L722.30,220.50L722.67,220.50L723.03,220.50L723.40,220.50L723.76,220.50L724.13,220.50L724.49,220.50L724.86,220.50L725.22,220.50L725.59,220.50L725.95,220.50L726.32,220.50L726.69,220.50L727.05,220.50L727.42,220.50L727.78,220.50L728.15,220.50L728.51,220.50L728.88,220.50L729.24,220.50L729.61,220.50L729.97,220.50L730.34,220.50L730.70,220.50L731.07,220.50L731.43,220.50L731.80,220.50" fill="none" stroke="#d81818" stroke-width="1.7" stroke-linejoin="round"/>
<path d="M560.20,52.70L562.63,55.87L565.06,59.08L567.48,62.32L569.91,65.59L572.34,68.91L574.77,72.26L577.19,75.65L579.62,79.09L582.05,82.56L584.48,86.07L586.90,89.62L589.33,93.21L591.76,96.85L594.19,100.53L596.61,104.26L599.04,108.03L601.47,111.84L603.90,115.70L606.32,119.61L608.75,123.57L611.18,127.58L613.61,131.64L616.03,135.75L618.46,139.91L620.89,144.13L623.32,148.39L625.74,152.72L628.17,157.10L630.60,161.54L630.60,161.54L630.97,162.13L631.33,162.73L631.70,163.35L632.06,163.98L632.43,164.62L632.79,165.28L633.16,165.95L633.52,166.64L633.89,167.37L634.26,168.13L634.62,168.90L634.99,169.67L635.35,170.44L635.72,171.19L636.08,171.90L636.45,172.58L636.82,173.23L637.18,173.88L637.55,174.52L637.91,175.15L638.28,175.77L638.64,176.38L639.01,176.97L639.37,177.56L639.74,178.14L640.11,178.70L640.47,179.26L640.84,179.80L641.20,180.33L641.57,180.85L641.93,181.36L642.30,181.85L642.67,182.32L643.03,182.78L643.40,183.22L643.76,183.66L644.13,184.09L644.49,184.53L644.86,184.96L645.22,185.39L645.59,185.82L645.96,186.27L646.32,186.72L646.69,187.19L647.05,187.67L647.42,188.18L647.78,188.70L648.15,189.23L648.52,189.76L648.88,190.30L649.25,190.83L649.61,191.35L649.98,191.86L650.34,192.35L650.71,192.81L651.07,193.27L651.44,193.72L651.81,194.18L652.17,194.63L652.54,195.08L652.90,195.53L653.27,195.96L653.63,196.38L654.00,196.78L654.37,197.17L654.73,197.53L655.10,197.87L655.46,198.19L655.83,198.48L656.19,198.73L656.56,198.97L656.92,199.19L657.29,199.40L657.66,199.59L658.02,199.78L658.39,199.95L658.75,200.12L659.12,200.28L659.48,200.44L659.85,200.60L660.21,200.76L660.58,200.91L660.95,201.07L661.31,201.23L661.68,201.40L662.04,201.56L662.41,201.72L662.77,201.87L663.14,202.02L663.51,202.17L663.87,202.32L664.24,202.46L664.60,202.61L664.97,202.77L665.33,202.92L665.70,203.08L666.06,203.25L666.43,203.43L666.80,203.62L667.16,203.82L667.53,204.03L667.89,204.27L668.26,204.52L668.62,204.79L668.99,205.07L669.36,205.36L669.72,205.66L670.09,205.97L670.45,206.28L670.82,206.60L671.18,206.91L671.55,207.23L671.91,207.55L672.28,207.87L672.65,208.18L673.01,208.48L673.38,208.77L673.74,209.06L674.11,209.33L674.47,209.59L674.84,209.83L675.21,210.05L675.57,210.26L675.94,210.44L676.30,210.61L676.67,210.77L677.03,210.93L677.40,211.08L677.76,211.23L678.13,211.37L678.50,211.51L678.86,211.64L679.23,211.77L679.59,211.89L679.96,212.01L680.32,212.13L680.69,212.25L681.06,212.36L681.42,212.47L681.79,212.58L682.15,212.69L682.52,212.80L682.88,212.91L683.25,213.02L683.61,213.12L683.98,213.23L684.35,213.34L684.71,213.45L685.08,213.57L685.44,213.68L685.81,213.80L686.17,213.92L686.54,214.04L686.90,214.16L687.27,214.29L687.64,214.43L688.00,214.56L688.37,214.70L688.73,214.84L689.10,214.97L689.46,215.11L689.83,215.25L690.20,215.39L690.56,215.53L690.93,215.66L691.29,215.80L691.66,215.93L692.02,216.05L692.39,216.17L692.75,216.29L693.12,216.40L693.49,216.51L693.85,216.61L694.22,216.71L694.58,216.80L694.95,216.89L695.31,216.99L695.68,217.08L696.05,217.16L696.41,217.25L696.78,217.34L697.14,217.43L697.51,217.51L697.87,217.59L698.24,217.68L698.60,217.76L698.97,217.84L699.34,217.92L699.70,217.99L700.07,218.07L700.43,218.15L700.80,218.22L701.16,218.29L701.53,218.36L701.90,218.44L702.26,218.50L702.63,218.57L702.99,218.64L703.36,218.70L703.72,218.77L704.09,218.83L704.45,218.89L704.82,218.96L705.19,219.01L705.55,219.07L705.92,219.13L706.28,219.19L706.65,219.24L707.01,219.29L707.38,219.34L707.74,219.40L708.11,219.44L708.48,219.49L708.84,219.54L709.21,219.59L709.57,219.64L709.94,219.69L710.30,219.74L710.67,219.79L711.04,219.84L711.40,219.89L711.77,219.94L712.13,219.99L712.50,220.03L712.86,220.08L713.23,220.12L713.59,220.17L713.96,220.21L714.33,220.25L714.69,220.29L715.06,220.32L715.42,220.35L715.79,220.38L716.15,220.41L716.52,220.43L716.89,220.45L717.25,220.47L717.62,220.48L717.98,220.49L718.35,220.50L718.71,220.50L719.08,220.50L719.44,220.50L719.81,220.50L720.18,220.50L720.54,220.50L720.91,220.50L721.27,220.50L721.64,220.50L722.00,220.50L722.37,220.50L722.74,220.50L723.10,220.50L723.47,220.50L723.83,220.50L724.20,220.50L724.56,220.50L724.93,220.50L725.29,220.50L725.66,220.50L726.03,220.50L726.39,220.50L726.76,220.50L727.12,220.50L727.49,220.50L727.85,220.50L728.22,220.50L728.59,220.50L728.95,220.50L729.32,220.50L729.68,220.50L730.05,220.50L730.41,220.50L730.78,220.50L731.14,220.50L731.51,220.50L731.88,220.50L732.24,220.50L732.61,220.50L732.97,220.50L733.34,220.50L733.70,220.50L734.07,220.50L734.43,220.50L734.80,220.50L735.17,220.50L735.53,220.50L735.90,220.50L736.26,220.50L736.63,220.50L736.99,220.50L737.36,220.50L737.73,220.50L738.09,220.50L738.46,220.50L738.82,220.50L739.19,220.50L739.55,220.50L739.92,220.50L740.28,220.50L740.65,220.50L741.02,220.50L741.38,220.50L741.75,220.50L742.11,220.50L742.48,220.50L742.84,220.50L743.21,220.50L743.58,220.50L743.94,220.50L744.31,220.50L744.67,220.50L745.04,220.50L745.40,220.50L745.77,220.50L746.13,220.50L746.50,220.50L746.87,220.50L747.23,220.50L747.60,220.50L747.96,220.50L748.33,220.50L748.69,220.50L749.06,220.50L749.43,220.50L749.79,220.50L750.16,220.50L750.52,220.50L750.89,220.50L751.25,220.50L751.62,220.50L751.98,220.50L752.35,220.50L752.72,220.50L753.08,220.50L753.45,220.50L753.81,220.50L754.18,220.50L754.54,220.50L754.91,220.50L755.28,220.50L755.64,220.50L756.01,220.50L756.37,220.50L756.74,220.50L757.10,220.50L757.47,220.50L757.83,220.50L758.20,220.50" fill="none" stroke="#30d030" stroke-width="1.7" stroke-linejoin="round"/>
<path d="M560.20,52.70L562.63,55.87L565.06,59.08L567.48,62.32L569.91,65.59L572.34,68.91L574.77,72.26L577.19,75.65L579.62,79.09L582.05,82.56L584.48,86.07L586.90,89.62L589.33,93.21L591.76,96.85L594.19,100.53L596.61,104.26L599.04,108.03L601.47,111.84L603.90,115.70L606.32,119.61L608.75,123.57L611.18,127.58L613.61,131.64L616.03,135.75L618.46,139.91L620.89,144.13L623.32,148.39L625.74,152.72L628.17,157.10L630.60,161.54L630.60,161.54L630.97,162.14L631.33,162.75L631.70,163.37L632.07,164.00L632.43,164.64L632.80,165.30L633.17,165.96L633.53,166.65L633.90,167.37L634.27,168.11L634.63,168.86L635.00,169.61L635.37,170.35L635.73,171.08L636.10,171.77L636.47,172.43L636.83,173.08L637.20,173.71L637.57,174.34L637.93,174.96L638.30,175.57L638.67,176.16L639.03,176.75L639.40,177.33L639.77,177.90L640.13,178.45L640.50,179.00L640.87,179.53L641.23,180.05L641.60,180.56L641.97,181.06L642.33,181.53L642.70,181.99L643.07,182.43L643.43,182.87L643.80,183.29L644.17,183.71L644.53,184.13L644.90,184.55L645.27,184.97L645.63,185.40L646.00,185.84L646.37,186.29L646.73,186.75L647.10,187.23L647.47,187.73L647.83,188.24L648.20,188.77L648.57,189.30L648.93,189.84L649.30,190.37L649.67,190.89L650.03,191.41L650.40,191.91L650.77,192.39L651.13,192.87L651.50,193.35L651.87,193.85L652.23,194.34L652.60,194.84L652.97,195.32L653.33,195.80L653.70,196.26L654.07,196.70L654.43,197.13L654.80,197.52L655.17,197.89L655.53,198.23L655.90,198.53L656.27,198.79L656.63,199.02L657.00,199.24L657.37,199.44L657.73,199.64L658.10,199.81L658.47,199.98L658.83,200.15L659.20,200.31L659.57,200.46L659.93,200.62L660.30,200.77L660.67,200.93L661.03,201.09L661.40,201.26L661.77,201.44L662.13,201.62L662.50,201.79L662.87,201.95L663.23,202.12L663.60,202.28L663.97,202.44L664.33,202.61L664.70,202.78L665.07,202.96L665.43,203.15L665.80,203.34L666.17,203.55L666.53,203.77L666.90,204.00L667.27,204.25L667.63,204.54L668.00,204.87L668.37,205.22L668.73,205.59L669.10,205.98L669.47,206.38L669.83,206.79L670.20,207.20L670.57,207.61L670.93,208.01L671.30,208.40L671.67,208.76L672.03,209.11L672.40,209.43L672.77,209.72L673.13,210.01L673.50,210.30L673.87,210.58L674.23,210.86L674.60,211.12L674.97,211.38L675.33,211.64L675.70,211.89L676.07,212.13L676.43,212.37L676.80,212.60L677.17,212.82L677.53,213.03L677.90,213.24L678.27,213.45L678.63,213.66L679.00,213.86L679.37,214.06L679.73,214.26L680.10,214.46L680.47,214.65L680.83,214.84L681.20,215.03L681.57,215.21L681.93,215.38L682.30,215.55L682.67,215.72L683.03,215.87L683.40,216.03L683.77,216.17L684.13,216.30L684.50,216.43L684.87,216.55L685.23,216.66L685.60,216.77L685.97,216.87L686.33,216.97L686.70,217.06L687.07,217.15L687.43,217.24L687.80,217.33L688.17,217.41L688.53,217.49L688.90,217.57L689.27,217.64L689.63,217.71L690.00,217.79L690.37,217.86L690.73,217.93L691.10,217.99L691.47,218.06L691.83,218.12L692.20,218.19L692.57,218.25L692.93,218.31L693.30,218.37L693.67,218.44L694.03,218.50L694.40,218.56L694.77,218.62L695.13,218.68L695.50,218.73L695.87,218.79L696.23,218.84L696.60,218.89L696.97,218.94L697.33,218.99L697.70,219.04L698.07,219.09L698.43,219.14L698.80,219.19L699.17,219.24L699.53,219.29L699.90,219.34L700.27,219.39L700.63,219.44L701.00,219.49L701.37,219.55L701.73,219.61L702.10,219.67L702.47,219.74L702.83,219.81L703.20,219.88L703.57,219.95L703.93,220.01L704.30,220.08L704.67,220.15L705.03,220.21L705.40,220.27L705.77,220.32L706.13,220.37L706.50,220.41L706.87,220.45L707.23,220.48L707.60,220.49L707.97,220.50L708.33,220.50L708.70,220.50L709.07,220.50L709.43,220.50L709.80,220.50L710.17,220.50L710.53,220.50L710.90,220.50L711.27,220.50L711.63,220.50L712.00,220.50L712.37,220.50L712.73,220.50L713.10,220.50L713.47,220.50L713.83,220.50L714.20,220.50L996.68,220.50" fill="none" stroke="#1010b8" stroke-width="1.7" stroke-linejoin="round"/>
<rect x="913.4" y="45.4" width="104.6" height="95.4" fill="#fff" stroke="#333" stroke-width="1.1"/>
<line x1="925.7" y1="60.7" x2="950" y2="60.7" stroke="#d81818" stroke-width="1.8"/>
<text stroke="#111" x="961" y="66.0" font-family="Liberation Sans, sans-serif" stroke-width="0.25" paint-order="stroke" font-size="12.8" fill="#111">AIP</text>
<line x1="925.7" y1="77.3" x2="950" y2="77.3" stroke="#30d030" stroke-width="1.8"/>
<text stroke="#111" x="961" y="82.6" font-family="Liberation Sans, sans-serif" stroke-width="0.25" paint-order="stroke" font-size="12.8" fill="#111">BMI</text>
<line x1="925.7" y1="93.4" x2="950" y2="93.4" stroke="#1010b8" stroke-width="1.8"/>
<text stroke="#111" x="961" y="98.7" font-family="Liberation Sans, sans-serif" stroke-width="0.25" paint-order="stroke" font-size="12.8" fill="#111">AIP+BMI</text>
<line x1="925.7" y1="109.2" x2="950" y2="109.2" stroke="#aaa" stroke-width="1"/>
<text stroke="#111" x="961" y="114.5" font-family="Liberation Sans, sans-serif" stroke-width="0.25" paint-order="stroke" font-size="12.8" fill="#111">All</text>
<line x1="925.7" y1="125.2" x2="950" y2="125.2" stroke="#333" stroke-width="1.3"/>
<text stroke="#111" x="961" y="130.5" font-family="Liberation Sans, sans-serif" stroke-width="0.25" paint-order="stroke" font-size="12.8" fill="#111">None</text>
<text transform="translate(15.6,333.2) scale(0.9,1)" font-family="Liberation Serif, serif" font-size="19" fill="#111">C</text>
<text x="72.7" y="355.9" font-family="Liberation Serif, serif" font-size="15.5" font-weight="bold" fill="#111">Comparision</text>
<text x="273" y="355.9" font-family="Liberation Serif, serif" font-size="15.5" font-weight="bold" fill="#111">Continuous NRI (95% CI)</text>
<line x1="66" y1="381.2" x2="476.4" y2="381.2" stroke="#111" stroke-width="2"/>
<line x1="66" y1="421.5" x2="476.4" y2="421.5" stroke="#222" stroke-width="1.4"/>
<line x1="66" y1="461.7" x2="476.4" y2="461.7" stroke="#222" stroke-width="1.4"/>
<text x="72.7" y="396.8" font-family="Liberation Serif, serif" font-size="15.5" fill="#111">BMI vs AIP</text>
<text x="273" y="396.8" font-family="Liberation Serif, serif" font-size="15.5" fill="#111">0.108(0.045-0.171)</text>
<text x="72.7" y="437.3" font-family="Liberation Serif, serif" font-size="15.5" fill="#111">AIP + BMI vs BMI</text>
<text x="273" y="437.3" font-family="Liberation Serif, serif" font-size="15.5" fill="#111">0.105(0.042-0.168)</text>
<text x="72.7" y="477.4" font-family="Liberation Serif, serif" font-size="15.5" fill="#111">AIP + BMI vs AIP</text>
<text x="273" y="477.4" font-family="Liberation Serif, serif" font-size="15.5" fill="#111">0.173(0.110-0.236)</text>
<line x1="559.3" y1="369.8" x2="559.3" y2="503.5" stroke="#d8d8d8" stroke-width="1"/>
<line x1="558.6" y1="503.6" x2="816" y2="503.6" stroke="#555" stroke-width="1.1"/>
<line x1="558.6" y1="503.6" x2="558.6" y2="511" stroke="#555" stroke-width="1.1"/>
<text x="558.6" y="532.1" font-family="Liberation Serif, serif" font-size="12.5" fill="#111" text-anchor="middle">0</text>
<line x1="644.4" y1="503.6" x2="644.4" y2="511" stroke="#555" stroke-width="1.1"/>
<text x="644.4" y="532.1" font-family="Liberation Serif, serif" font-size="12.5" fill="#111" text-anchor="middle">0.1</text>
<line x1="730.2" y1="503.6" x2="730.2" y2="511" stroke="#555" stroke-width="1.1"/>
<text x="730.2" y="532.1" font-family="Liberation Serif, serif" font-size="12.5" fill="#111" text-anchor="middle">0.2</text>
<line x1="816.0" y1="503.6" x2="816.0" y2="511" stroke="#555" stroke-width="1.1"/>
<text x="816.0" y="532.1" font-family="Liberation Serif, serif" font-size="12.5" fill="#111" text-anchor="middle">0.3</text>
<text x="620" y="547.1" font-family="Liberation Serif, serif" font-size="12.8" fill="#111">Continuous NRI (95% CI)</text>
<line x1="597.2" y1="391.5" x2="705.3" y2="391.5" stroke="#d9d9d9" stroke-width="1.2"/>
<rect x="643.3" y="383.5" width="16" height="16" fill="#000"/>
<line x1="594.6" y1="436" x2="702.7" y2="436" stroke="#d9d9d9" stroke-width="1.2"/>
<rect x="640.7" y="428.0" width="16" height="16" fill="#000"/>
<line x1="653.0" y1="480.8" x2="761.1" y2="480.8" stroke="#d9d9d9" stroke-width="1.2"/>
<rect x="699.0" y="472.8" width="16" height="16" fill="#000"/>
<text x="843.8" y="338.6" font-family="Liberation Serif, serif" font-size="15.2" font-weight="bold" fill="#111">P value</text>
<text x="843.8" y="395.9" font-family="Liberation Serif, serif" font-size="15.2" fill="#111">0.001</text>
<text x="843.8" y="433.7" font-family="Liberation Serif, serif" font-size="15.2" fill="#111">0.001</text>
<text x="843.8" y="470.7" font-family="Liberation Serif, serif" font-size="15.2" fill="#111">0.030</text>
</svg></body></html>
